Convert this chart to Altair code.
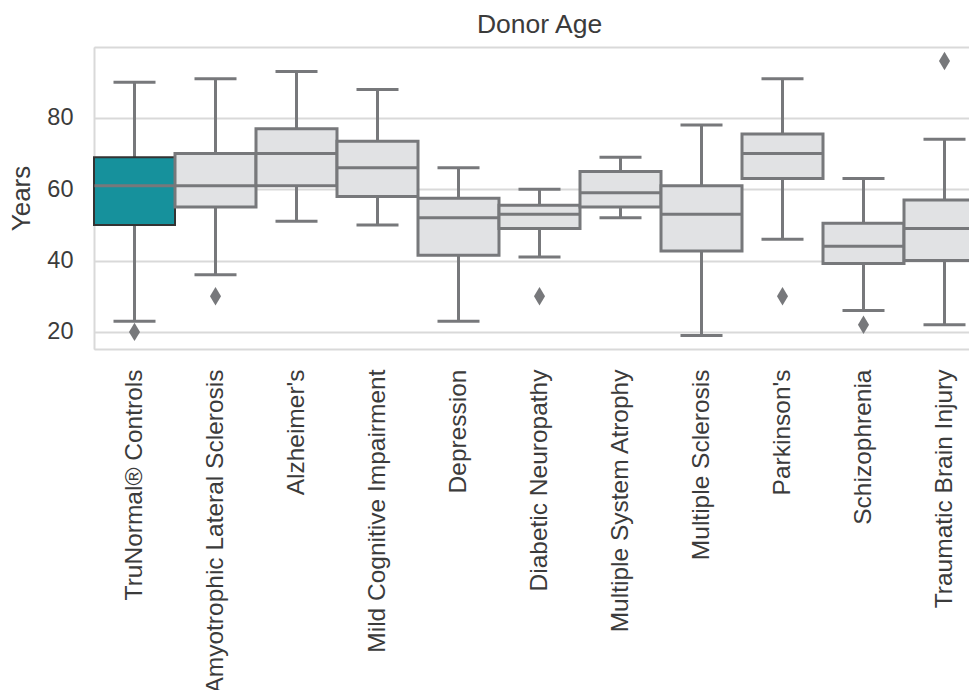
import altair as alt
import pandas as pd

categories = [
    "TruNormal® Controls",
    "Amyotrophic Lateral Sclerosis",
    "Alzheimer's",
    "Mild Cognitive Impairment",
    "Depression",
    "Diabetic Neuropathy",
    "Multiple System Atrophy",
    "Multiple Sclerosis",
    "Parkinson's",
    "Schizophrenia",
    "Traumatic Brain Injury",
]
lower = [23, 36, 51, 50, 23, 41, 52, 19, 46, 26, 22]
q1 = [50, 55, 61, 58, 41.5, 49, 55, 42.7, 63, 39.2, 40]
median = [61, 61, 70, 66, 52, 53, 59, 53, 70, 44, 49]
q3 = [69, 70, 77, 73.5, 57.5, 55.5, 65, 61, 75.5, 50.5, 57]
upper = [90, 91, 93, 88, 66, 60, 69, 78, 91, 63, 74]
groups = ["control"] + ["disease"] * 10

outlier_cats = ["TruNormal® Controls", "Amyotrophic Lateral Sclerosis", "Diabetic Neuropathy",
                "Parkinson's", "Schizophrenia", "Traumatic Brain Injury"]
outlier_vals = [20, 30, 30, 30, 22, 96]

y_ticks = [20, 40, 60, 80]
y_min, y_max = 15.2, 99.9

box_df = pd.DataFrame({
    "category": categories, "lower": lower, "q1": q1, "median": median,
    "q3": q3, "upper": upper, "group": groups,
})
cap_df = pd.DataFrame({
    "category": categories * 2,
    "value": lower + upper,
})
out_df = pd.DataFrame({"category": outlier_cats, "value": outlier_vals})

FONT = "Liberation Sans"
EDGE = "#77787B"
GRID = "#d9d9d9"
TEXT = "#3b3b3b"

# full band width 81 px per category; the chart is cut at the window's right edge
x_enc = alt.X(
    "category:N",
    sort=categories,
    scale=alt.Scale(domain=categories, paddingInner=0, paddingOuter=0, range=[0, 891]),
    axis=alt.Axis(
        title=None, labelAngle=-90, labelFontSize=24.5, labelFont=FONT,
        labelColor=TEXT, labelPadding=20, ticks=False, domain=True,
        domainColor=GRID, domainWidth=2, labelLimit=600,
    ),
)
y_scale = alt.Scale(domain=[y_min, y_max], nice=False, zero=False)
y_axis = alt.Axis(
    title="Years", values=y_ticks + [y_max], grid=True, gridColor=GRID,
    gridWidth=1.8, ticks=False, domain=True, domainColor=GRID, domainWidth=2,
    labelFontSize=23.5, labelExpr="datum.value > 90 ? '' : datum.label",
    labelFont=FONT, labelColor=TEXT, labelPadding=21,
    titleFont=FONT, titleFontSize=26, titleFontWeight="normal",
    titleColor=TEXT, titlePadding=12,
)

whiskers = alt.Chart(box_df).mark_rule(color=EDGE, strokeWidth=3).encode(
    x=x_enc,
    y=alt.Y("lower:Q", scale=y_scale, axis=y_axis),
    y2="upper:Q",
)

caps = alt.Chart(cap_df).mark_tick(color=EDGE, size=42, thickness=3, opacity=1).encode(
    x=x_enc,
    y=alt.Y("value:Q", scale=y_scale, axis=y_axis),
)

boxes = alt.Chart(box_df).mark_bar(opacity=1).encode(
    x=x_enc,
    y=alt.Y("q1:Q", scale=y_scale, axis=y_axis),
    y2="q3:Q",
    color=alt.Color("group:N", scale=alt.Scale(domain=["control", "disease"],
                    range=["#16919C", "#E1E2E4"]), legend=None),
    stroke=alt.Stroke("group:N", scale=alt.Scale(domain=["control", "disease"],
                      range=["#333333", EDGE]), legend=None),
    strokeWidth=alt.StrokeWidth("group:N", scale=alt.Scale(domain=["control", "disease"],
                                range=[2, 3]), legend=None),
)

medians = alt.Chart(box_df).mark_tick(color=EDGE, size=80, thickness=3, opacity=1).encode(
    x=x_enc,
    y=alt.Y("median:Q", scale=y_scale, axis=y_axis),
)

outliers = alt.Chart(out_df).mark_point(
    shape="M0,-1L0.6,0L0,1L-0.6,0Z", filled=True, size=340, color=EDGE, opacity=1,
).encode(
    x=x_enc,
    y=alt.Y("value:Q", scale=y_scale, axis=y_axis),
)

chart = alt.layer(whiskers, boxes, medians, caps, outliers).properties(
    width=875,
    height=302,
    title=alt.TitleParams("Donor Age", fontSize=26.5, font=FONT, fontWeight="normal",
                          color=TEXT, anchor="middle", offset=9, dx=8),
    autosize=alt.AutoSizeParams(type="none"),
    padding={"left": 86, "top": 39, "right": 0, "bottom": 341},
).configure_view(
    stroke=None,
).configure(background="white")

chart.save("out.html", embed_options={"renderer": "svg", "actions": False})
